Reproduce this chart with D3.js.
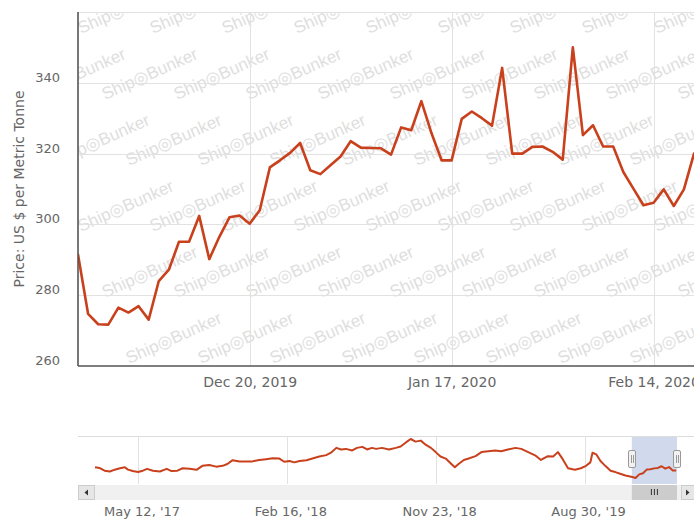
<!DOCTYPE html>
<html>
<head>
<meta charset="utf-8">
<script src="https://cdn.jsdelivr.net/npm/d3@7"></script>
<style>
  html, body { margin: 0; padding: 0; background: #fff; }
  svg { display: block; font-family: "DejaVu Sans", Verdana, sans-serif; }
</style>
</head>
<body>
<svg id="chart" width="694" height="521"></svg>
<script>
// Daily trading dates shown in the main panel
const dates = [
  "2019-11-27","2019-11-28","2019-11-29","2019-12-02","2019-12-03","2019-12-04","2019-12-05","2019-12-06",
  "2019-12-09","2019-12-10","2019-12-11","2019-12-12","2019-12-13","2019-12-16","2019-12-17","2019-12-18",
  "2019-12-19","2019-12-20","2019-12-23","2019-12-24","2019-12-25","2019-12-26","2019-12-27","2019-12-30",
  "2019-12-31","2020-01-01","2020-01-02","2020-01-03","2020-01-06","2020-01-07","2020-01-08","2020-01-09",
  "2020-01-10","2020-01-13","2020-01-14","2020-01-15","2020-01-16","2020-01-17","2020-01-20","2020-01-21",
  "2020-01-22","2020-01-23","2020-01-24","2020-01-27","2020-01-28","2020-01-29","2020-01-30","2020-01-31",
  "2020-02-03","2020-02-04","2020-02-05","2020-02-06","2020-02-07","2020-02-10","2020-02-11","2020-02-12",
  "2020-02-13","2020-02-14","2020-02-17","2020-02-18","2020-02-19","2020-02-20"
];
// Price, US $ per metric tonne
const prices = [
  291.5, 274.7, 271.8, 271.7, 276.5, 275.1, 276.9, 273.1,
  284.0, 287.2, 295.1, 295.1, 302.4, 290.2, 296.5, 302.0,
  302.5, 300.2, 304.0, 316.1, 318.1, 320.2, 323.0, 315.3,
  314.2, 316.7, 319.2, 323.5, 321.7, 321.6, 321.5, 319.7,
  327.4, 326.6, 334.8, 325.8, 318.1, 318.1, 329.8, 331.9,
  330.0, 327.9, 344.2, 320.0, 320.0, 321.9, 322.0, 320.5,
  318.3, 350.0, 325.2, 328.0, 322.0, 322.0, 314.8, 310.1,
  305.4, 306.1, 309.9, 305.2, 309.9, 320.0
];

// Longer history used by the navigator strip
const historyDates = [
  "2017-02-20","2017-03-01","2017-03-10","2017-03-20","2017-03-29","2017-04-08","2017-04-17","2017-04-23",
  "2017-05-02","2017-05-12","2017-05-21","2017-05-29","2017-06-09","2017-06-22","2017-07-05","2017-07-14",
  "2017-07-25","2017-08-04","2017-08-17","2017-08-30","2017-09-10","2017-09-23","2017-10-06","2017-10-18",
  "2017-10-27","2017-11-06","2017-11-19","2017-12-02","2017-12-13","2017-12-26","2018-01-08","2018-01-20",
  "2018-02-02","2018-02-11","2018-02-21","2018-03-02","2018-03-12","2018-03-25","2018-04-05","2018-04-18",
  "2018-05-01","2018-05-10","2018-05-20","2018-05-29","2018-06-07","2018-06-19","2018-06-28","2018-07-08",
  "2018-07-17","2018-07-26","2018-08-03","2018-08-14","2018-08-27","2018-09-09","2018-09-18","2018-09-28",
  "2018-10-07","2018-10-16","2018-10-26","2018-11-04","2018-11-14","2018-11-23","2018-12-02","2018-12-12",
  "2018-12-21","2018-12-29","2019-01-05","2019-01-15","2019-01-24","2019-02-06","2019-02-17","2019-03-02",
  "2019-03-15","2019-03-26","2019-04-08","2019-04-22","2019-05-03","2019-05-16","2019-05-29","2019-06-09",
  "2019-06-22","2019-07-02","2019-07-11","2019-07-20","2019-07-30","2019-08-12","2019-08-23","2019-09-02",
  "2019-09-10","2019-09-14","2019-09-21","2019-09-29","2019-10-08","2019-10-18","2019-10-27","2019-11-05",
  "2019-11-15"
];
const historyPrices = [
  328, 324, 311, 307, 316, 323, 328, 316,
  309, 304, 311, 320, 311, 307, 320, 309,
  311, 323, 320, 315, 335, 339, 331, 335,
  344, 363, 357, 357, 357, 364, 368, 372,
  371, 355, 359, 352, 359, 363, 371, 381,
  388, 400, 424, 416, 419, 411, 424, 429,
  416, 424, 419, 424, 416, 424, 431, 451,
  468, 455, 460, 440, 424, 403, 381, 371,
  348, 328, 344, 364, 371, 383, 403, 407,
  411, 407, 416, 424, 419, 403, 387, 364,
  383, 381, 403, 368, 323, 316, 323, 335,
  352, 400, 392, 359, 335, 311, 304, 296,
  287
];

const yLabelValues = [260, 280, 300, 320, 340];
const yGridValues = [280, 300, 320, 340, 360];
const xTickDates = ["2019-12-20", "2020-01-17", "2020-02-14"];
const navTickDates = ["2017-05-12", "2018-02-16", "2018-11-23", "2019-08-30"];
const yTitle = "Price: US $ per Metric Tonne";
const watermark = "Ship\u25CEBunker";

const lineColor = "#c9401c";
const textColor = "#666666";

const svg = d3.select("#chart");
const parse = d3.timeParse("%Y-%m-%d");

// ---- main panel ----
const plot = { left: 78, right: 694, top: 12, bottom: 366 };
const x = d3.scalePoint().domain(dates).range([plot.left, plot.right]);
const y = d3.scaleLinear().domain([260, 360]).range([plot.bottom, plot.top]);

svg.append("clipPath").attr("id", "plotClip")
  .append("rect")
  .attr("x", plot.left).attr("y", plot.top)
  .attr("width", plot.right - plot.left).attr("height", plot.bottom - plot.top);

// brand watermark repeated on a staggered lattice behind the plot
const wm = svg.append("g").attr("clip-path", "url(#plotClip)");
const wmTiles = [];
for (let r = -3; r <= 7; r++) {
  for (let c = -4; c <= 10; c++) {
    const px = 297 + c * 72 + r * 24;
    const py = 34 + r * 66;
    if (px > plot.left - 120 && px < plot.right + 10 && py > plot.top - 5 && py < plot.bottom + 50) {
      wmTiles.push([px, py]);
    }
  }
}
wm.selectAll("text").data(wmTiles).join("text")
  .attr("transform", d => `translate(${d[0]},${d[1]}) rotate(-24)`)
  .attr("font-family", "'Liberation Sans', Arial, sans-serif")
  .attr("font-size", 17)
  .attr("fill", "#dedede")
  .text(watermark);

// horizontal grid
svg.append("g").selectAll("line").data(yGridValues).join("line")
  .attr("x1", plot.left).attr("x2", plot.right)
  .attr("y1", d => Math.round(y(d)) + 0.5).attr("y2", d => Math.round(y(d)) + 0.5)
  .attr("stroke", "#e2e2e2").attr("stroke-width", 1);

// vertical grid
svg.append("g").selectAll("line").data(xTickDates).join("line")
  .attr("x1", d => Math.round(x(d)) + 0.5).attr("x2", d => Math.round(x(d)) + 0.5)
  .attr("y1", plot.top).attr("y2", plot.bottom)
  .attr("stroke", "#e2e2e2").attr("stroke-width", 1);

// price line
const line = d3.line()
  .x((d, i) => x(dates[i]))
  .y(d => y(d));
svg.append("g").attr("clip-path", "url(#plotClip)")
  .append("path")
  .datum(prices)
  .attr("d", line)
  .attr("fill", "none")
  .attr("stroke", lineColor)
  .attr("stroke-width", 2.6)
  .attr("stroke-linejoin", "round")
  .attr("stroke-linecap", "round");

// y axis
const yAxis = svg.append("g")
  .attr("transform", `translate(${plot.left},0)`)
  .call(d3.axisLeft(y).tickValues(yLabelValues).tickSize(0).tickPadding(18));
yAxis.select(".domain").remove();
yAxis.selectAll("text")
  .attr("dy", -1.5)
  .attr("fill", textColor)
  .attr("font-size", 13)
  .attr("font-family", "'DejaVu Sans', Verdana, sans-serif");

// x axis
const fmtMain = d3.timeFormat("%b %d, %Y");
const xAxis = svg.append("g")
  .attr("transform", `translate(0,${plot.bottom})`)
  .call(d3.axisBottom(x).tickValues(xTickDates).tickSize(0)
    .tickFormat(d => fmtMain(parse(d))));
xAxis.select(".domain").remove();
xAxis.selectAll("text")
  .attr("y", 21).attr("dy", 0)
  .attr("fill", textColor)
  .attr("font-size", 14)
  .attr("font-family", "'DejaVu Sans', Verdana, sans-serif");

// axis lines
svg.append("line")
  .attr("x1", plot.left).attr("x2", plot.right)
  .attr("y1", plot.bottom).attr("y2", plot.bottom)
  .attr("stroke", "#555").attr("stroke-width", 1.6);
svg.append("line")
  .attr("x1", plot.left).attr("x2", plot.left)
  .attr("y1", plot.top).attr("y2", plot.bottom)
  .attr("stroke", "#555").attr("stroke-width", 1.6);

// y axis title
svg.append("text")
  .attr("transform", `translate(23.5,${(plot.top + plot.bottom) / 2}) rotate(-90)`)
  .attr("text-anchor", "middle")
  .attr("font-size", 14)
  .attr("fill", textColor)
  .text(yTitle);

// ---- navigator ----
const nav = { left: 78, right: 694, top: 436, bottom: 484, lineTop: 439, lineBottom: 480 };

// the recent daily prices are shown as weekly averages in the navigator
const weekly = d3.rollups(
  dates.map((d, i) => ({ date: parse(d), price: prices[i] })),
  v => ({ date: new Date(d3.mean(v, p => +p.date)), price: d3.mean(v, p => p.price) }),
  p => +d3.timeMonday.floor(p.date)
).map(d => d[1]);
const navPoints = historyDates.map((d, i) => ({ date: parse(d), price: historyPrices[i] }))
  .concat(weekly);

const nx = d3.scaleTime()
  .domain([parse(historyDates[0]), parse(dates[dates.length - 1])])
  .range([95, 677]);
const ny = d3.scaleLinear()
  .domain(d3.extent(navPoints, d => d.price))
  .range([nav.lineBottom - 2, nav.lineTop]);

svg.append("line")
  .attr("x1", nav.left).attr("x2", nav.right)
  .attr("y1", nav.top + 0.5).attr("y2", nav.top + 0.5)
  .attr("stroke", "#dddddd");

svg.append("g").selectAll("line").data(navTickDates).join("line")
  .attr("x1", d => Math.round(nx(parse(d))) + 0.5).attr("x2", d => Math.round(nx(parse(d))) + 0.5)
  .attr("y1", nav.top).attr("y2", nav.bottom)
  .attr("stroke", "#e2e2e2");

// selected range mask
const selStart = nx(parse(dates[0]));
const selEnd = nx(parse(dates[dates.length - 1]));
svg.append("rect")
  .attr("x", selStart).attr("y", nav.top + 1)
  .attr("width", selEnd - selStart).attr("height", nav.bottom - nav.top - 1)
  .attr("fill", "rgba(102,133,194,0.3)");

const navLine = d3.line()
  .x(d => nx(d.date))
  .y(d => ny(d.price));
svg.append("path")
  .datum(navPoints)
  .attr("d", navLine)
  .attr("fill", "none")
  .attr("stroke", lineColor)
  .attr("stroke-width", 2)
  .attr("stroke-linejoin", "round");

// handles at both ends of the selection
const handles = svg.append("g").selectAll("g").data([selStart, selEnd]).join("g")
  .attr("transform", d => `translate(${Math.round(d)},450)`);
handles.append("rect")
  .attr("x", -3.5).attr("y", 0.5).attr("width", 7).attr("height", 17).attr("rx", 1.5)
  .attr("fill", "#f2f2f2").attr("stroke", "#999999");
handles.append("line").attr("x1", -0.5).attr("x2", -0.5).attr("y1", 5).attr("y2", 13).attr("stroke", "#999");
handles.append("line").attr("x1", 1.5).attr("x2", 1.5).attr("y1", 5).attr("y2", 13).attr("stroke", "#999");

// scrollbar
const sb = { top: 485, h: 15 };
svg.append("rect")
  .attr("x", nav.left).attr("y", sb.top).attr("width", nav.right - nav.left).attr("height", sb.h)
  .attr("fill", "#f0f0f0");
svg.append("rect")
  .attr("x", selStart).attr("y", sb.top).attr("width", selEnd - selStart).attr("height", sb.h)
  .attr("fill", "#cccccc");
const gripX = (selStart + selEnd) / 2;
svg.append("g").selectAll("line").data([-3, 0, 3]).join("line")
  .attr("x1", d => gripX + d).attr("x2", d => gripX + d)
  .attr("y1", sb.top + 4).attr("y2", sb.top + 10)
  .attr("stroke", "#333").attr("stroke-width", 1);
// arrow buttons
svg.append("rect")
  .attr("x", nav.left + 0.5).attr("y", sb.top + 0.5).attr("width", 16).attr("height", sb.h - 1)
  .attr("fill", "#e6e6e6").attr("stroke", "#cccccc");
svg.append("path")
  .attr("d", `M${nav.left + 10},${sb.top + 4.5} L${nav.left + 6.5},${sb.top + 7.5} L${nav.left + 10},${sb.top + 10.5} Z`)
  .attr("fill", "#333");
svg.append("rect")
  .attr("x", 681.5).attr("y", sb.top + 0.5).attr("width", 16).attr("height", sb.h - 1)
  .attr("fill", "#e6e6e6").attr("stroke", "#cccccc");
svg.append("path")
  .attr("d", `M686,${sb.top + 4.5} L689.5,${sb.top + 7.5} L686,${sb.top + 10.5} Z`)
  .attr("fill", "#333");

// navigator axis labels
const fmtNav = d3.timeFormat("%b %d, '%y");
svg.append("g").selectAll("text").data(navTickDates).join("text")
  .attr("x", d => nx(parse(d)) + 4)
  .attr("y", 516)
  .attr("text-anchor", "middle")
  .attr("font-size", 13)
  .attr("fill", textColor)
  .text(d => fmtNav(parse(d)));
</script>
</body>
</html>
